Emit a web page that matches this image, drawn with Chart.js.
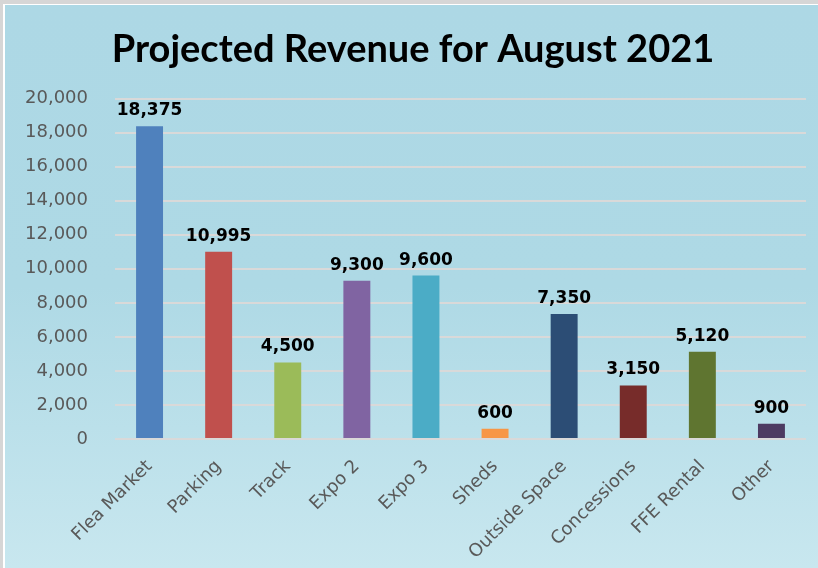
<!DOCTYPE html>
<html>
<head>
<meta charset="utf-8">
<script src="https://cdn.jsdelivr.net/npm/chart.js@4"></script>
<style>
  html, body { margin: 0; padding: 0; background: #ffffff; }
  body { width: 818px; height: 568px; overflow: hidden; position: relative; }
  #frame { position: absolute; left: 0; top: 0; width: 818px; height: 568px;
           border-left: 3px solid #d6d6d6; border-top: 4px solid #d6d6d6; box-sizing: border-box; }
  #panel { position: absolute; left: 5px; top: 5px; width: 813px; height: 563px;
           background: linear-gradient(to bottom, #add8e5 0%, #aed9e5 50%, #c8e7ef 100%); }
</style>
</head>
<body>
<div id="frame"></div>
<div id="panel"><canvas id="revChart" width="813" height="563"></canvas></div>
<script>
// categories and values
let categories = ['Flea Market', 'Parking', 'Track', 'Expo 2', 'Expo 3', 'Sheds',
                  'Outside Space', 'Concessions', 'FFE Rental', 'Other'];
let revenue = [18375, 10995, 4500, 9300, 9600, 600, 7350, 3150, 5120, 900];
let barColors = ['#4f81bd', '#c0504d', '#9bbb59', '#8064a2', '#4bacc6', '#f79646',
                 '#2c4d75', '#772c2a', '#5f7530', '#4d3b62'];
let yMax = 20000;
let yStep = 2000;

// value labels above each bar
let valueLabels = {
    id: 'valueLabels',
    afterDatasetsDraw(chart) {
        let ctx = chart.ctx;
        let meta = chart.getDatasetMeta(0);
        ctx.save();
        ctx.font = 'bold 17px "DejaVu Sans"';
        ctx.fillStyle = '#000000';
        ctx.textAlign = 'center';
        ctx.textBaseline = 'bottom';
        meta.data.forEach(function(bar, i) {
            let txt = revenue[i].toLocaleString('en-US');
            ctx.fillText(txt, bar.x, bar.y - 7);
        });
        ctx.restore();
    }
};

let ctx = document.getElementById('revChart');
new Chart(ctx, {
    type: 'bar',
    data: {
        labels: categories,
        datasets: [{
            data: revenue,
            backgroundColor: barColors,
            borderWidth: 0,
            categoryPercentage: 1.0,
            barPercentage: 0.39
        }]
    },
    options: {
        responsive: false,
        animation: false,
        layout: { padding: { left: 15, right: 12, top: 0, bottom: 0 } },
        plugins: {
            legend: { display: false },
            tooltip: { enabled: false },
            title: {
                display: true,
                text: 'Projected Revenue for August 2021',
                color: '#000000',
                font: { family: 'Lato', size: 38, weight: 'bold' },
                padding: { top: 22, bottom: 26 }
            }
        },
        scales: {
            x: {
                grid: { display: false },
                border: { display: false },
                ticks: {
                    color: '#595959',
                    font: { family: 'DejaVu Sans', size: 18 },
                    minRotation: 45,
                    maxRotation: 45,
                    padding: 9
                },
                afterFit: function(scale) { scale.height = 129; }
            },
            y: {
                min: 0,
                max: yMax,
                border: { display: false },
                grid: { color: '#d9d9d9', lineWidth: 2, drawTicks: false },
                ticks: {
                    stepSize: yStep,
                    color: '#595959',
                    font: { family: 'DejaVu Sans', size: 18 },
                    padding: 27,
                    callback: function(v) { return v.toLocaleString('en-US'); }
                },
                afterFit: function(scale) { scale.width = 95; }
            }
        }
    },
    plugins: [valueLabels]
});
</script>
</body>
</html>
